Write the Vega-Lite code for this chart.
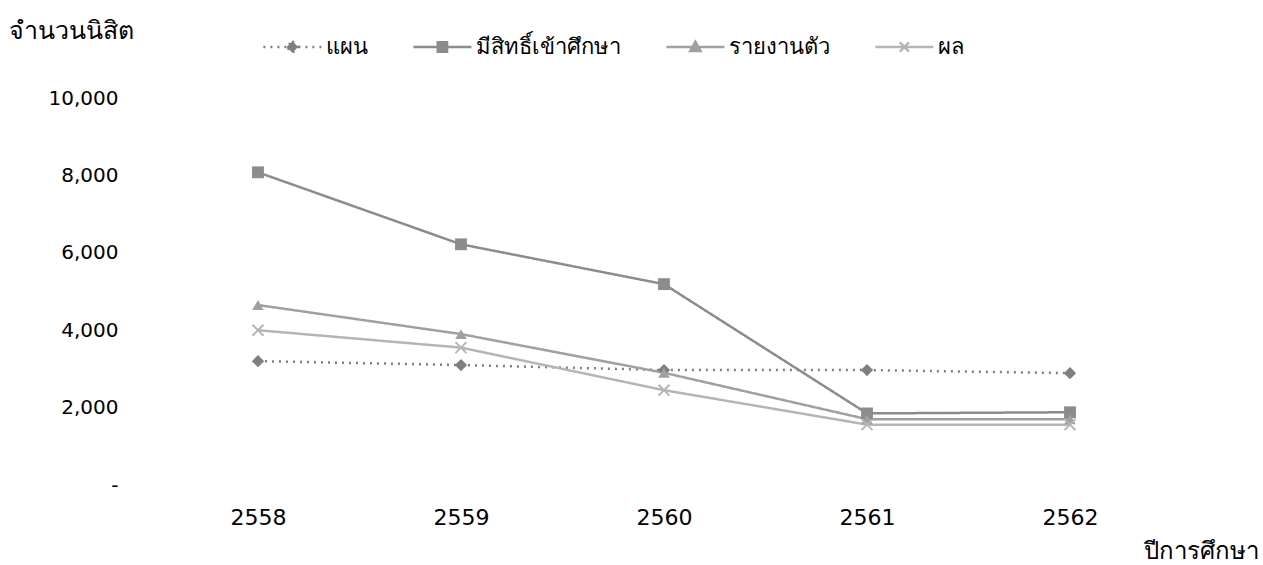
{
  "$schema": "https://vega.github.io/schema/vega-lite/v6.json",
  "width": 1028,
  "height": 387,
  "autosize": "none",
  "padding": {"left": 150, "top": 98, "right": 85, "bottom": 80},
  "background": "white",
  "config": {
    "font": "Noto Sans",
    "view": {"stroke": null},
    "axis": {"labelColor": "#000", "titleColor": "#000", "labelFont": "DejaVu Sans", "titleFont": "Noto Sans"},
    "legend": {"labelColor": "#000", "labelFont": "Noto Sans"}
  },
  "data": {
    "values": [
      {"year": "2558", "series": "แผน", "value": 3200},
      {"year": "2559", "series": "แผน", "value": 3100},
      {"year": "2560", "series": "แผน", "value": 2970},
      {"year": "2561", "series": "แผน", "value": 2970},
      {"year": "2562", "series": "แผน", "value": 2890},
      {"year": "2558", "series": "มีสิทธิ์เข้าศึกษา", "value": 8080},
      {"year": "2559", "series": "มีสิทธิ์เข้าศึกษา", "value": 6220},
      {"year": "2560", "series": "มีสิทธิ์เข้าศึกษา", "value": 5190},
      {"year": "2561", "series": "มีสิทธิ์เข้าศึกษา", "value": 1850},
      {"year": "2562", "series": "มีสิทธิ์เข้าศึกษา", "value": 1880},
      {"year": "2558", "series": "รายงานตัว", "value": 4650},
      {"year": "2559", "series": "รายงานตัว", "value": 3900},
      {"year": "2560", "series": "รายงานตัว", "value": 2900},
      {"year": "2561", "series": "รายงานตัว", "value": 1700},
      {"year": "2562", "series": "รายงานตัว", "value": 1700},
      {"year": "2558", "series": "ผล", "value": 4000},
      {"year": "2559", "series": "ผล", "value": 3550},
      {"year": "2560", "series": "ผล", "value": 2450},
      {"year": "2561", "series": "ผล", "value": 1560},
      {"year": "2562", "series": "ผล", "value": 1560}
    ]
  },
  "encoding": {
    "x": {
      "field": "year", "type": "ordinal", "sort": null,
      "scale": {"type": "point", "padding": 0.532},
      "axis": {
        "labelAngle": 0, "labelFontSize": 22, "labelPadding": 22, "labelFont": "DejaVu Sans", "ticks": false, "domain": false, "grid": false,
        "title": "ปีการศึกษา", "titleFontSize": 24, "titleFontWeight": "normal",
        "titleX": 993, "titleY": 66, "titleAlign": "left", "titleBaseline": "middle"
      }
    },
    "y": {
      "field": "value", "type": "quantitative",
      "scale": {"domain": [0, 10000]},
      "axis": {
        "values": [0, 2000, 4000, 6000, 8000, 10000],
        "labelExpr": "datum.value == 0 ? '-\u00a0\u00a0\u00a0\u00a0' : format(datum.value, ',')",
        "labelFontSize": 20, "labelFont": "DejaVu Sans", "labelPadding": 32, "ticks": false, "domain": false, "grid": false,
        "title": "จำนวนนิสิต", "titleAngle": 0, "titleFontSize": 25, "titleFontWeight": "normal",
        "titleX": -142, "titleY": -68, "titleAlign": "left", "titleBaseline": "middle"
      }
    }
  },
  "layer": [
    {
      "mark": {"type": "line", "strokeWidth": 2.5},
      "encoding": {
        "color": {
          "field": "series", "type": "nominal",
          "scale": {"domain": ["แผน", "มีสิทธิ์เข้าศึกษา", "รายงานตัว", "ผล"], "range": ["#7f7f7f", "#8c8c8c", "#a0a0a0", "#b5b5b5"]},
          "legend": {
            "orient": "none", "legendX": 112, "legendY": -64, "direction": "horizontal", "columns": 4,
            "title": null, "labelFontSize": 22, "symbolSize": 538, "labelOffset": 38, "columnPadding": 40,
            "symbolStrokeWidth": 2,
            "encode": {
              "symbols": {
                "update": {
                  "shape": {"signal": "datum.value === 'แผน' ? 'M-1,0H4M1.5,-0.5L2,0L1.5,0.5L1,0Z' : datum.value === 'มีสิทธิ์เข้าศึกษา' ? 'M-1,0H4M1.1,-0.4H1.9V0.4H1.1Z' : datum.value === 'รายงานตัว' ? 'M-1,0H4M1.5,-0.45L1.95,0.35H1.05Z' : 'M-1,0H4M1.1,-0.4L1.9,0.4M1.9,-0.4L1.1,0.4'"},
                  "strokeDash": {"signal": "datum.value === 'แผน' ? [2, 5] : [1, 0]"},
                  "fill": {"signal": "scale('color', datum.value)"},
                  "stroke": {"signal": "scale('color', datum.value)"},
                  "strokeWidth": {"value": 2.5},
                  "strokeOpacity": {"value": 1},
                  "opacity": {"value": 1}
                }
              }
            }
          }
        },
        "strokeDash": {
          "field": "series", "type": "nominal",
          "scale": {"domain": ["แผน", "มีสิทธิ์เข้าศึกษา", "รายงานตัว", "ผล"], "range": [[2, 5], [1, 0], [1, 0], [1, 0]]},
          "legend": null
        }
      }
    },
    {
      "transform": [{"filter": "datum.series === 'แผน'"}],
      "mark": {"type": "point", "shape": "diamond", "size": 150, "filled": true, "color": "#7f7f7f", "opacity": 1}
    },
    {
      "transform": [{"filter": "datum.series === 'มีสิทธิ์เข้าศึกษา'"}],
      "mark": {"type": "point", "shape": "square", "size": 140, "filled": true, "color": "#8c8c8c", "opacity": 1}
    },
    {
      "transform": [{"filter": "datum.series === 'รายงานตัว'"}],
      "mark": {"type": "point", "shape": "triangle-up", "size": 130, "filled": true, "color": "#a0a0a0", "opacity": 1}
    },
    {
      "transform": [{"filter": "datum.series === 'ผล'"}],
      "mark": {"type": "point", "shape": "M-1,-1L1,1M1,-1L-1,1", "size": 120, "filled": false, "color": "#b5b5b5", "strokeWidth": 2, "opacity": 1}
    }
  ]
}
